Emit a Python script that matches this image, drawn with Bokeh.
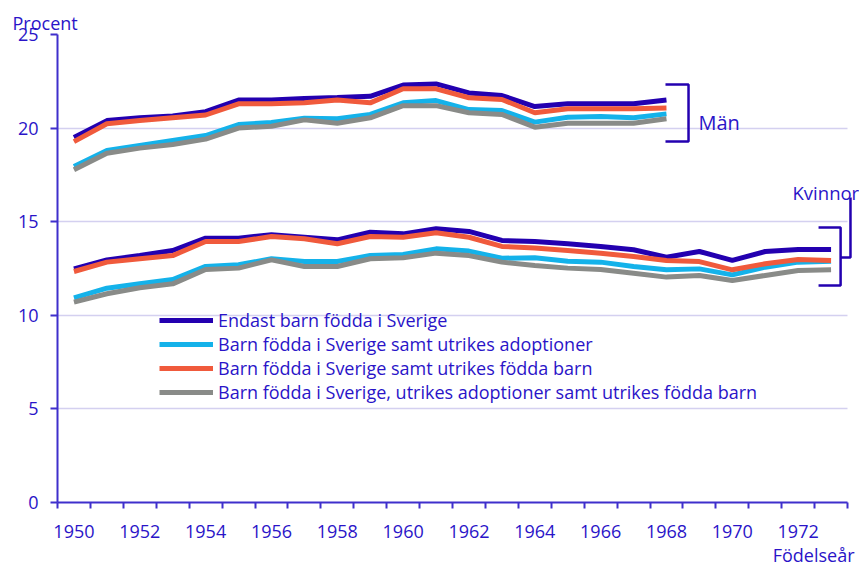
from bokeh.plotting import figure
from bokeh.models import Range1d, FixedTicker, Legend, LegendItem, Label, Title
from bokeh.embed import file_html
from bokeh.resources import INLINE

# ---- data ----
years_men = list(range(1950, 1969))
years_women = list(range(1950, 1974))

series_labels = [
    "Endast barn födda i Sverige",
    "Barn födda i Sverige samt utrikes adoptioner",
    "Barn födda i Sverige samt utrikes födda barn",
    "Barn födda i Sverige, utrikes adoptioner samt utrikes födda barn",
]

endast_men = [19.5, 20.4, 20.55, 20.65, 20.88, 21.5, 21.5, 21.58, 21.63, 21.7,
              22.3, 22.36, 21.88, 21.74, 21.15, 21.3, 21.3, 21.3, 21.5]
adopt_men = [17.95, 18.8, 19.07, 19.34, 19.6, 20.19, 20.3, 20.53, 20.5, 20.73,
             21.35, 21.47, 20.99, 20.94, 20.32, 20.58, 20.62, 20.55, 20.76]
utrfodda_men = [19.28, 20.23, 20.4, 20.55, 20.7, 21.3, 21.3, 21.35, 21.5, 21.35,
                22.1, 22.1, 21.62, 21.53, 20.82, 21.03, 21.03, 21.03, 21.08]
alla_men = [17.77, 18.66, 18.93, 19.12, 19.41, 20.0, 20.1, 20.44, 20.26, 20.55,
            21.2, 21.2, 20.82, 20.73, 20.05, 20.26, 20.26, 20.26, 20.5]

endast_women = [12.48, 12.96, 13.19, 13.46, 14.12, 14.12, 14.3, 14.17, 14.03, 14.44,
                14.35, 14.62, 14.48, 14.0, 13.94, 13.82, 13.68, 13.5, 13.1, 13.41,
                12.93, 13.41, 13.51, 13.51]
adopt_women = [10.93, 11.45, 11.68, 11.91, 12.61, 12.7, 13.02, 12.87, 12.87, 13.19,
               13.25, 13.55, 13.43, 13.05, 13.07, 12.89, 12.84, 12.61, 12.43, 12.48,
               12.16, 12.57, 12.84, 12.89]
utrfodda_women = [12.34, 12.84, 13.02, 13.19, 13.94, 13.94, 14.21, 14.09, 13.82, 14.21,
                  14.17, 14.41, 14.17, 13.68, 13.6, 13.46, 13.32, 13.14, 12.93, 12.87,
                  12.43, 12.75, 12.98, 12.93]
alla_women = [10.7, 11.15, 11.47, 11.68, 12.45, 12.52, 12.96, 12.61, 12.61, 13.02,
              13.07, 13.32, 13.19, 12.84, 12.66, 12.52, 12.45, 12.25, 12.04, 12.13,
              11.86, 12.13, 12.39, 12.43]

y_ticks = [0, 5, 10, 15, 20, 25]
x_tick_labels = list(range(1950, 1973, 2))

# bracket annotations (data coordinates)
man_bracket_x = [1967.97, 1968.67, 1968.67, 1967.97]
man_bracket_y = [22.33, 22.33, 19.28, 19.28]
kv_bracket_x = [1972.62, 1973.29, 1973.29, 1972.62]
kv_bracket_y = [14.69, 14.69, 11.59, 11.59]
kv_link_x = [1973.29, 1973.59, 1973.59]
kv_link_y = [13.09, 13.09, 16.29]

# ---- style ----
colors = ["#2300B0", "#14B2EA", "#F05A3C", "#898B88"]
TXT = "#2A14C8"
AX = "#3F2FCC"
GRID = "#D4D0F0"
FONT = "Open Sans"

p = figure(width=859, height=567, output_backend="svg", toolbar_location=None,
           x_range=Range1d(1949.5, 1973.864), y_range=Range1d(0, 25),
           min_border_left=57, min_border_right=0, min_border_top=34,
           min_border_bottom=65)
p.outline_line_color = None
p.background_fill_color = "white"
p.border_fill_color = "white"

# axes
p.xaxis.ticker = FixedTicker(ticks=x_tick_labels,
                             minor_ticks=[1949.5 + i for i in range(25)])
p.xaxis.bounds = (1949.5, 1973.5)
p.xaxis.major_tick_out = 0
p.xaxis.major_tick_in = 0
p.xaxis.minor_tick_out = 6
p.xaxis.minor_tick_in = 0
p.xaxis.minor_tick_line_color = AX
p.xaxis.minor_tick_line_width = 2
p.xaxis.major_label_standoff = 16

p.yaxis.ticker = FixedTicker(ticks=y_ticks)
p.yaxis.major_tick_out = 7
p.yaxis.major_tick_in = 0
p.yaxis.minor_tick_line_color = None
p.yaxis.major_label_standoff = 12

for ax in (p.xaxis, p.yaxis):
    ax.axis_line_color = AX
    ax.axis_line_width = 2
    ax.major_tick_line_color = AX
    ax.major_tick_line_width = 2
    ax.major_label_text_color = TXT
    ax.major_label_text_font = FONT
    ax.major_label_text_font_size = "18px"

p.xgrid.grid_line_color = None
p.ygrid.grid_line_color = GRID
p.ygrid.grid_line_width = 1.5
p.ygrid.ticker = FixedTicker(ticks=y_ticks[1:])
p.ygrid.cross_bounds = (1949.5, 1973.5)

# series
men = [endast_men, adopt_men, utrfodda_men, alla_men]
women = [endast_women, adopt_women, utrfodda_women, alla_women]
renderers = []
for i in range(4):
    r = p.multi_line(xs=[years_men, years_women], ys=[men[i], women[i]],
                     line_color=colors[i], line_width=5)
    renderers.append(r)

# brackets
BR = "#2300B0"
p.line(man_bracket_x, man_bracket_y, line_color=BR, line_width=2.5)
p.line(kv_bracket_x, kv_bracket_y, line_color=BR, line_width=2.5)
p.line(kv_link_x, kv_link_y, line_color=BR, line_width=2.5)

legend = Legend(items=[LegendItem(label=series_labels[i], renderers=[renderers[i]])
                       for i in range(4)],
                location=(102, 98), orientation="vertical",
                glyph_width=54, glyph_height=20, label_height=20,
                label_standoff=5, spacing=-3, padding=0, margin=0,
                border_line_color=None, background_fill_alpha=0,
                label_text_font=FONT, label_text_font_size="18px",
                label_text_color=TXT)
p.add_layout(legend, "center")

def lab(text, x, y, align="left", baseline="alphabetic", size="18px"):
    p.add_layout(Label(x=x, y=y, text=text, text_font=FONT, text_font_size=size,
                       text_color=TXT, text_align=align, text_baseline=baseline))

lab("Män", 1968.97, 20.30, size="20px")
lab("Kvinnor", 1971.83, 16.56, size="18.5px")

p.add_layout(Title(text="Procent", align="left", offset=-45, standoff=0,
                   text_font=FONT, text_font_size="18px", text_font_style="normal",
                   text_color=TXT), "above")
p.add_layout(Title(text="Födelseår", align="right", offset=5, standoff=0,
                   text_font=FONT, text_font_size="18px", text_font_style="normal",
                   text_color=TXT), "below")

open("out.html", "w").write(file_html(p, INLINE))
